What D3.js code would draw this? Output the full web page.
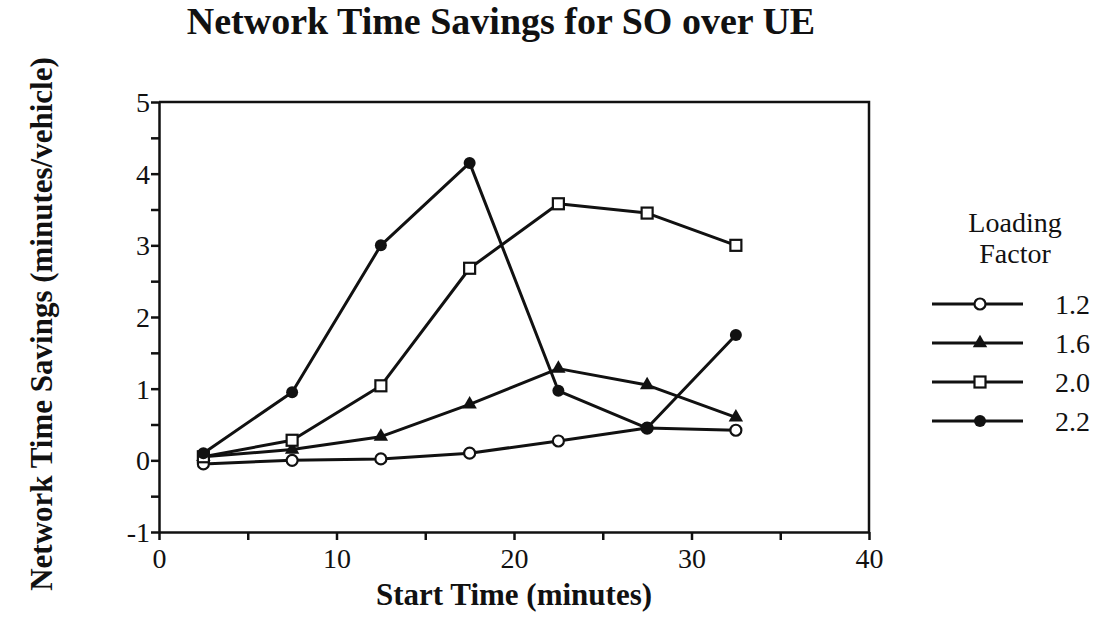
<!DOCTYPE html>
<html>
<head>
<meta charset="utf-8">
<script src="https://cdn.jsdelivr.net/npm/d3@7"></script>
<style>
  body { margin: 0; background: #fff; }
  svg text { font-family: "Liberation Serif", "Times New Roman", serif; fill: #111; }
</style>
</head>
<body>
<div id="chart"></div>
<script>
// start times (minutes) shared by every series
const startTimes = [2.5, 7.5, 12.5, 17.5, 22.5, 27.5, 32.5];

// network time savings (minutes/vehicle) per loading factor
const lf12 = [-0.05, 0.0, 0.02, 0.1, 0.27, 0.45, 0.42];
const lf16 = [0.05, 0.15, 0.33, 0.78, 1.28, 1.05, 0.6];
const lf20 = [0.05, 0.28, 1.04, 2.68, 3.58, 3.45, 3.0];
const lf22 = [0.1, 0.95, 3.0, 4.15, 0.97, 0.45, 1.75];

const seriesNames = ["1.2", "1.6", "2.0", "2.2"];
const seriesValues = [lf12, lf16, lf20, lf22];
const seriesMarkers = ["openCircle", "triangle", "openSquare", "dot"];

const xTicks = [0, 5, 10, 15, 20, 25, 30, 35, 40];
const xLabels = [0, 10, 20, 30, 40];
const yTicks = [-1, -0.5, 0, 0.5, 1, 1.5, 2, 2.5, 3, 3.5, 4, 4.5, 5];
const yLabels = [-1, 0, 1, 2, 3, 4, 5];

const W = 1101, H = 637;
const margin = {top: 102, right: 232, bottom: 105, left: 159};
const width = W - margin.left - margin.right,
	height = H - margin.top - margin.bottom;

const svg = d3.select("#chart")
	.append("svg")
	.attr("width", W)
	.attr("height", H);

const g = svg.append("g")
	.attr("transform", `translate(${margin.left}, ${margin.top})`);

const x = d3.scaleLinear().domain([0, 40]).range([0, width]);
const y = d3.scaleLinear().domain([-1, 5]).range([height, 0]);

// box (top + right spines)
g.append("path")
	.attr("d", `M0,0H${width}V${height}`)
	.attr("fill", "none")
	.attr("stroke", "#111")
	.attr("stroke-width", 2.5);

// X axis
const xAxis = g.append("g")
	.attr("transform", `translate(0, ${height})`)
	.call(d3.axisBottom(x).tickValues(xTicks).tickSize(8).tickSizeOuter(0)
		.tickFormat(d => xLabels.includes(d) ? d : ""));

// Y axis
const yAxis = g.append("g")
	.call(d3.axisLeft(y).tickValues(yTicks).tickSize(8).tickSizeOuter(0)
		.tickFormat(d => yLabels.includes(d) ? d : ""));

[xAxis, yAxis].forEach(a => {
	a.attr("font-family", null);
	a.select(".domain").attr("stroke", "#111").attr("stroke-width", 2.5);
	a.selectAll(".tick line").attr("stroke", "#111").attr("stroke-width", 2.5);
	a.selectAll(".tick text")
		.attr("font-size", 28)
		.attr("fill", "#111");
});
xAxis.selectAll(".tick text").attr("dy", "0.9em");
yAxis.selectAll(".tick text").attr("x", -9).attr("dy", "0.34em");

// marker drawing
function drawMarker(sel, type, cx, cy) {
	if (type === "openCircle") {
		sel.append("circle").attr("cx", cx).attr("cy", cy).attr("r", 5.5)
			.attr("fill", "#fff").attr("stroke", "#111").attr("stroke-width", 2.2);
	} else if (type === "dot") {
		sel.append("circle").attr("cx", cx).attr("cy", cy).attr("r", 6)
			.attr("fill", "#111");
	} else if (type === "openSquare") {
		sel.append("rect").attr("x", cx - 5.5).attr("y", cy - 5.5)
			.attr("width", 11).attr("height", 11)
			.attr("fill", "#fff").attr("stroke", "#111").attr("stroke-width", 2.2);
	} else if (type === "triangle") {
		sel.append("path")
			.attr("d", d3.symbol(d3.symbolTriangle, 90)())
			.attr("transform", `translate(${cx}, ${cy})`)
			.attr("fill", "#111");
	}
}

const line = d3.line()
	.x(d => x(d[0]))
	.y(d => y(d[1]));

seriesValues.forEach((vals, i) => {
	const pts = startTimes.map((t, j) => [t, vals[j]]);
	const sg = g.append("g");
	sg.append("path")
		.datum(pts)
		.attr("d", line)
		.attr("fill", "none")
		.attr("stroke", "#111")
		.attr("stroke-width", 3)
		.attr("stroke-linejoin", "round");
	pts.forEach(p => drawMarker(sg, seriesMarkers[i], x(p[0]), y(p[1])));
});

// title
svg.append("text")
	.attr("x", 501)
	.attr("y", 34)
	.attr("text-anchor", "middle")
	.attr("font-size", 38)
	.attr("font-weight", "bold")
	.text("Network Time Savings for SO over UE");

// axis titles
svg.append("text")
	.attr("x", margin.left + width / 2)
	.attr("y", 605)
	.attr("text-anchor", "middle")
	.attr("font-size", 31)
	.attr("font-weight", "bold")
	.text("Start Time (minutes)");

svg.append("text")
	.attr("transform", "translate(52, 324) rotate(-90)")
	.attr("text-anchor", "middle")
	.attr("font-size", 31)
	.attr("font-weight", "bold")
	.text("Network Time Savings (minutes/vehicle)");

// legend
const legend = svg.append("g");
legend.append("text")
	.attr("x", 1015).attr("y", 232)
	.attr("text-anchor", "middle").attr("font-size", 28)
	.text("Loading");
legend.append("text")
	.attr("x", 1015).attr("y", 263)
	.attr("text-anchor", "middle").attr("font-size", 28)
	.text("Factor");

const legendY = d3.scalePoint().domain(seriesNames).range([304, 421]);
seriesNames.forEach((name, i) => {
	const ly = legendY(name);
	legend.append("line")
		.attr("x1", 932).attr("x2", 1023)
		.attr("y1", ly).attr("y2", ly)
		.attr("stroke", "#111").attr("stroke-width", 3);
	drawMarker(legend, seriesMarkers[i], 980, ly);
	legend.append("text")
		.attr("x", 1055).attr("y", ly)
		.attr("dy", "0.35em")
		.attr("font-size", 28)
		.text(name);
});
</script>
</body>
</html>
